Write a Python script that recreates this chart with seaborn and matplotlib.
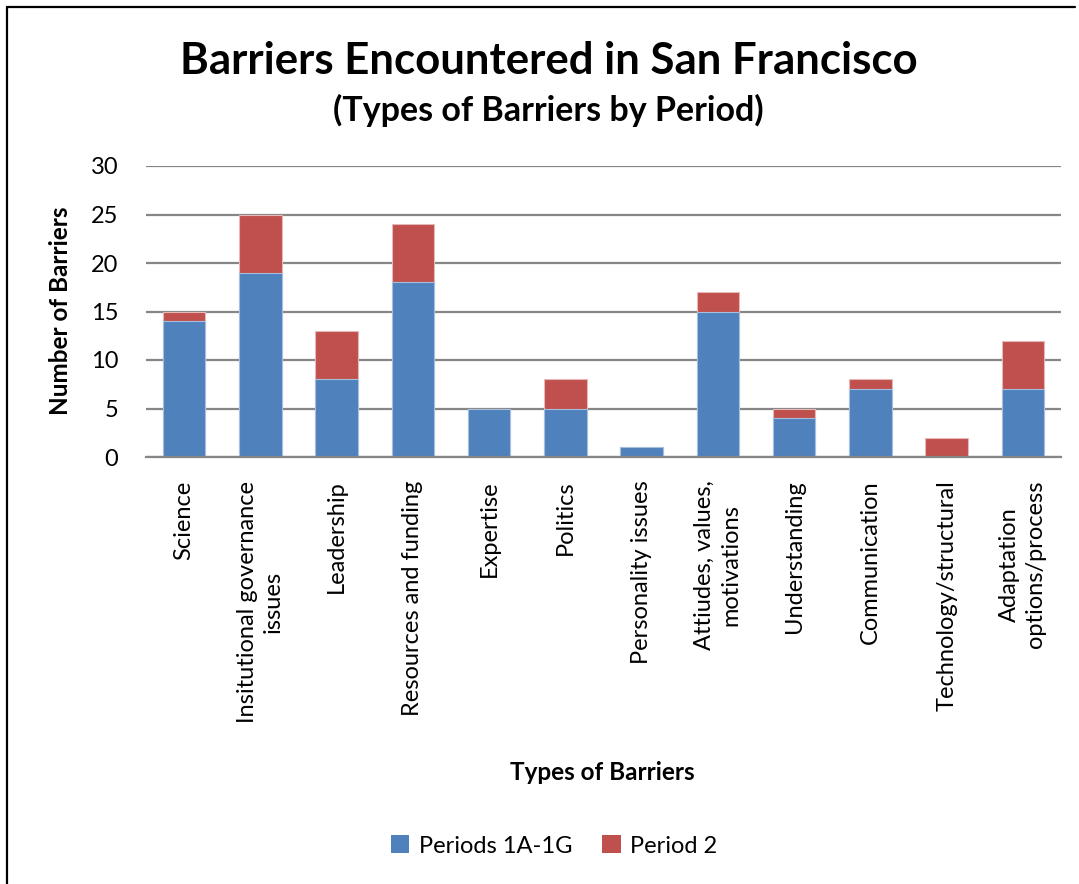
import matplotlib
matplotlib.use("Agg")
import matplotlib.pyplot as plt
from matplotlib.lines import Line2D
from matplotlib.patches import Patch
import seaborn as sns
import pandas as pd

categories = [
    "Science",
    "Insitutional governance\nissues",
    "Leadership",
    "Resources and funding",
    "Expertise",
    "Politics",
    "Personality issues",
    "Attiudes, values,\nmotivations",
    "Understanding",
    "Communication",
    "Technology/structural",
    "Adaptation\noptions/process",
]
periods_1a_1g = [14, 19, 8, 18, 5, 5, 1, 15, 4, 7, 0, 7]
period_2 = [1, 6, 5, 6, 0, 3, 0, 2, 1, 1, 2, 5]
y_ticks = [0, 5, 10, 15, 20, 25, 30]

BLUE = "#4F81BD"
RED = "#C0504D"
GRID = "#868686"

sns.set_theme(style="white")
plt.rcParams["font.family"] = ["Lato", "DejaVu Sans"]
plt.rcParams["text.color"] = "black"
plt.rcParams["xtick.color"] = "black"
plt.rcParams["ytick.color"] = "black"

df = pd.DataFrame({
    "category": categories,
    "p1": periods_1a_1g,
    "total": [a + b for a, b in zip(periods_1a_1g, period_2)],
})

fig = plt.figure(figsize=(10.79, 8.84), dpi=100)
ax = fig.add_axes([146 / 1079, 1 - 457 / 884, (1061 - 146) / 1079, (457 - 166) / 884])

# stacked bars: the total in red, the first period drawn over it in blue
sns.barplot(data=df, x="category", y="total", color=RED, saturation=1,
            width=0.56, edgecolor="#E6B9B8", linewidth=0.8, ax=ax, zorder=3)
sns.barplot(data=df, x="category", y="p1", color=BLUE, saturation=1,
            width=0.56, edgecolor="#A7BFDE", linewidth=0.8, ax=ax, zorder=4)

ax.set_ylim(0, 30)
ax.set_xlim(-0.5, len(categories) - 0.5)
ax.set_yticks(y_ticks)
ax.set_yticklabels([str(t) for t in y_ticks], fontsize=17)
ax.yaxis.grid(True, color=GRID, linewidth=1.6, zorder=0)
ax.set_axisbelow(True)
for side in ["top", "right", "left"]:
    ax.spines[side].set_visible(False)
ax.spines["bottom"].set_color(GRID)
ax.spines["bottom"].set_linewidth(1.6)
ax.spines["bottom"].set_zorder(5)
ax.tick_params(axis="y", length=0, pad=20)
ax.tick_params(axis="x", length=0, pad=17)

ax.set_xticks(range(len(categories)))
ax.set_xticklabels(categories, rotation=90, fontsize=17, ha="center", va="top",
                   multialignment="center", linespacing=1.3)
ax.set_xlabel("")
ax.set_ylabel("")

fig.text(60 / 1079, 1 - 311 / 884, "Number of Barriers", rotation=90,
         fontsize=17.5, fontweight="bold", ha="center", va="center")
fig.text(602 / 1079, 1 - 773 / 884, "Types of Barriers",
         fontsize=17.5, fontweight="bold", ha="center", va="center")

fig.text(549 / 1079, 1 - 61 / 884, "Barriers Encountered in San Francisco",
         fontsize=31.5, fontweight="bold", ha="center", va="center")
fig.text(548 / 1079, 1 - 110 / 884, "(Types of Barriers by Period)",
         fontsize=24.5, fontweight="bold", ha="center", va="center")

handles = [Patch(facecolor=BLUE, edgecolor="none", label="Periods 1A-1G"),
           Patch(facecolor=RED, edgecolor="none", label="Period 2")]
fig.legend(handles=handles, loc="center", bbox_to_anchor=(554 / 1079, 1 - 846 / 884),
           ncol=2, frameon=False, fontsize=17, handlelength=0.8, handleheight=0.8,
           handletextpad=0.4, columnspacing=1.25)

# outer frame lines along the top and left edges
fig.add_artist(Line2D([7 / 1079, 1075 / 1079], [1 - 7 / 884, 1 - 7 / 884],
                      color="black", linewidth=1.6, transform=fig.transFigure))
fig.add_artist(Line2D([7 / 1079, 7 / 1079], [1 - 7 / 884, 0],
                      color="black", linewidth=1.6, transform=fig.transFigure))

fig.savefig("out.png", dpi=100, facecolor="white")
